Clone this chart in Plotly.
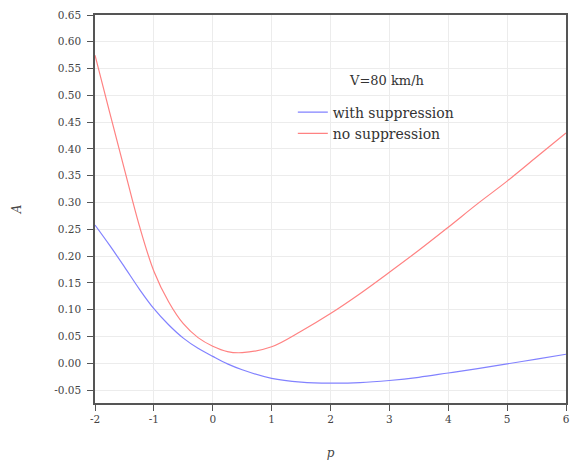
import plotly.graph_objects as go

p_vals = [-2, -1.75, -1.5, -1.25, -1, -0.75, -0.5, -0.25, 0, 0.25, 0.5, 1, 1.5, 2, 2.5, 3, 3.5, 4, 4.5, 5, 5.5, 6]
a_with = [0.258, 0.220, 0.180, 0.139, 0.102, 0.072, 0.047, 0.028, 0.013, -0.001, -0.012, -0.028, -0.035, -0.037, -0.036, -0.032, -0.026, -0.018, -0.010, -0.001, 0.008, 0.017]
a_no = [0.575, 0.468, 0.362, 0.258, 0.172, 0.115, 0.074, 0.048, 0.032, 0.022, 0.020, 0.031, 0.060, 0.093, 0.130, 0.170, 0.211, 0.254, 0.298, 0.340, 0.385, 0.430]

x_ticks = [-2, -1, 0, 1, 2, 3, 4, 5, 6]
y_ticks = [-0.05, 0.00, 0.05, 0.10, 0.15, 0.20, 0.25, 0.30, 0.35, 0.40, 0.45, 0.50, 0.55, 0.60, 0.65]

font_family = "DejaVu Serif, Liberation Serif, serif"

fig = go.Figure()
fig.add_trace(go.Scatter(x=p_vals, y=a_with, mode="lines", name="with suppression",
                         line=dict(color="rgb(130,130,255)", width=1.2, shape="spline", smoothing=1.0)))
fig.add_trace(go.Scatter(x=p_vals, y=a_no, mode="lines", name="no suppression",
                         line=dict(color="rgb(255,130,130)", width=1.2, shape="spline", smoothing=1.0)))

axis_common = dict(showline=True, linecolor="#555", linewidth=1.5, mirror=True,
                   ticks="outside", ticklen=6, tickcolor="#555",
                   showgrid=True, gridcolor="#ececec", gridwidth=1, zeroline=False,
                   ticklabeloverflow="allow",
                   tickfont=dict(family=font_family, size=10.5, color="#444"))

fig.update_xaxes(range=[-2, 6], tickvals=x_ticks, ticktext=[str(t) for t in x_ticks],
                 title=dict(text="<i>p</i>", font=dict(family=font_family, size=12, color="#444"), standoff=24),
                 **axis_common)
fig.update_yaxes(range=[-0.074, 0.65], tickvals=y_ticks, ticktext=[f"{t:.2f}" for t in y_ticks],
                 ticklabelstandoff=4,
                 title=dict(text="<i>A</i>", font=dict(family=font_family, size=12, color="#444"), standoff=30),
                 **axis_common)

fig.add_annotation(x=0.619, y=0.832, xref="paper", yref="paper", text="V=80 km/h", showarrow=False,
                   font=dict(family=font_family, size=13, color="#333"), xanchor="center", yanchor="middle")

fig.update_layout(
    width=571, height=462,
    margin=dict(l=95, r=1, t=15, b=59),
    paper_bgcolor="white", plot_bgcolor="white",
    showlegend=True,
    legend=dict(x=0.42, y=0.79, xanchor="left", yanchor="top", bgcolor="rgba(0,0,0,0)",
                font=dict(family=font_family, size=14, color="#333"),
                itemwidth=30, tracegroupgap=0),
)

fig.write_html("out.html")
